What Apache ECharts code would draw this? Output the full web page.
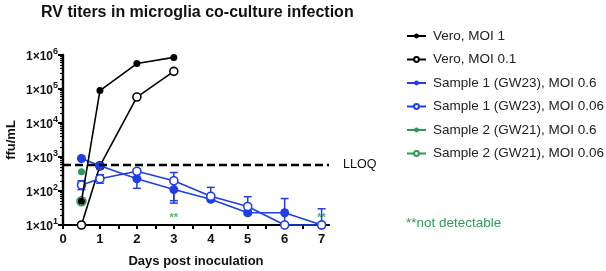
<!DOCTYPE html>
<html>
<head>
<meta charset="utf-8">
<script src="https://cdn.jsdelivr.net/npm/echarts@6/dist/echarts.min.js"></script>
<style>
  html, body { margin: 0; padding: 0; background: #fff; }
  #chart { width: 606px; height: 271px; }
</style>
</head>
<body>
<div id="chart"></div>
<script>
// data
const xTicks = [0, 1, 2, 3, 4, 5, 6, 7];
const xTickMarks = [0, 0.5, 1, 1.5, 2, 2.5, 3, 3.5, 4, 4.5, 5, 5.5, 6, 6.5, 7];
const yMinorTicks = [20, 30, 40, 50, 60, 70, 80, 90, 200, 300, 400, 500, 600, 700, 800, 900,
  2000, 3000, 4000, 5000, 6000, 7000, 8000, 9000, 20000, 30000, 40000, 50000, 60000, 70000, 80000, 90000,
  200000, 300000, 400000, 500000, 600000, 700000, 800000, 900000];

const veroDays = [0.5, 1, 2, 3];
const vero1 = [50, 90000, 560000, 850000];
const vero01 = [10, 550, 58000, 330000];

const sampleDays = [0.5, 1, 2, 3, 4, 5, 6, 7];
const s1High = [900, 550, 230, 110, 57, 23, 23, 10];
const s1HighLo = [900, 450, 120, 44, 50, 20, 10, 10];
const s1HighHi = [900, 650, 330, 200, 65, 27, 60, 10];
const s1Low = [150, 230, 380, 200, 70, 35, 10, 10];
const s1LowLo = [110, 170, 330, 52, 60, 25, 10, 10];
const s1LowHi = [200, 300, 450, 350, 128, 68, 10, 30];

const s2Days = [0.5];
const s2High = [370];
const s2Low = [50];

const notDetectDays = [3, 7];
const notDetectVals = [16, 16];

const lloq = 600;

const BLUE = '#1f3ee6';
const GREEN = '#2e9a5a';

const chart = echarts.init(document.getElementById('chart'));

function pairs(xs, ys) {
  return xs.map((x, i) => [x, ys[i]]);
}

function errorBars(name, xs, lo, hi, color) {
  return {
    name: name + ' err',
    type: 'custom',
    silent: true,
    z: 3,
    data: xs.map((x, i) => [x, lo[i], hi[i]]),
    encode: { x: 0, y: [1, 2] },
    renderItem: function (params, api) {
      const x = api.value(0);
      const a = api.coord([x, api.value(1)]);
      const b = api.coord([x, api.value(2)]);
      const w = 4;
      const st = { stroke: color, lineWidth: 1.5 };
      return {
        type: 'group',
        children: [
          { type: 'line', shape: { x1: a[0], y1: a[1], x2: b[0], y2: b[1] }, style: st },
          { type: 'line', shape: { x1: a[0] - w, y1: a[1], x2: a[0] + w, y2: a[1] }, style: st },
          { type: 'line', shape: { x1: b[0] - w, y1: b[1], x2: b[0] + w, y2: b[1] }, style: st }
        ]
      };
    }
  };
}

function lineSeries(name, data, color, filled, size, z) {
  return {
    name: name,
    type: 'line',
    data: data,
    z: z,
    symbol: 'circle',
    symbolSize: size,
    showSymbol: true,
    clip: false,
    lineStyle: { color: color, width: 1.6 },
    itemStyle: filled
      ? { color: color, borderColor: color, borderWidth: 0 }
      : { color: '#fff', borderColor: color, borderWidth: 1.6 },
    emphasis: { disabled: true }
  };
}

const supRich = {
  b: { fontSize: 12, fontWeight: 'bold', color: '#111', fontFamily: 'Liberation Sans', lineHeight: 16, verticalAlign: 'bottom' },
  s: { fontSize: 9, fontWeight: 'bold', color: '#111', fontFamily: 'Liberation Sans', lineHeight: 16, verticalAlign: 'top', padding: [0, 0, 6, 0] }
};

const vero1Series = lineSeries('Vero, MOI 1', pairs(veroDays, vero1), '#000', true, 7, 6);
vero1Series.markLine = {
  silent: true,
  symbol: 'none',
  lineStyle: { color: '#000', type: [8, 4], width: 2.4 },
  label: { show: true, position: 'end', formatter: 'LLOQ', color: '#111', fontSize: 12.5, fontFamily: 'Liberation Sans', distance: 14 },
  data: [{ yAxis: lloq }]
};

chart.setOption({
  animation: false,
  textStyle: { fontFamily: 'Liberation Sans' },
  title: {
    text: 'RV titers in microglia co-culture infection',
    left: 36,
    top: 0,
    textStyle: { fontSize: 16, fontWeight: 'bold', color: '#111', fontFamily: 'Liberation Sans' }
  },
  legend: {
    orient: 'vertical',
    left: 401,
    top: 24,
    itemWidth: 19,
    itemHeight: 6,
    itemGap: 9.5,
    textStyle: { fontSize: 13.5, color: '#222', fontFamily: 'Liberation Sans', padding: [0, 0, 0, 2] },
    data: ['Vero, MOI 1', 'Vero, MOI 0.1', 'Sample 1 (GW23), MOI 0.6', 'Sample 1 (GW23), MOI 0.06',
      'Sample 2 (GW21), MOI 0.6', 'Sample 2 (GW21), MOI 0.06']
  },
  graphic: [{
    type: 'text',
    left: 406,
    top: 216,
    style: { text: '**not detectable', fill: GREEN, fontSize: 13.5, fontFamily: 'Liberation Sans' }
  }],
  grid: { left: 63, right: 277, top: 55, bottom: 46, outerBoundsMode: 'none' },
  xAxis: {
    type: 'value',
    min: 0,
    max: 7.2,
    name: 'Days post inoculation',
    nameLocation: 'middle',
    nameGap: 30,
    nameTextStyle: { fontSize: 13, fontWeight: 'bold', color: '#111' },
    axisLine: { lineStyle: { color: '#000', width: 2.2 } },
    axisTick: { customValues: xTickMarks, length: 4, lineStyle: { color: '#000', width: 2 } },
    axisLabel: { customValues: xTicks, fontSize: 13, fontWeight: 'bold', color: '#111', margin: 8 },
    splitLine: { show: false }
  },
  yAxis: [{
    type: 'log',
    logBase: 10,
    min: 10,
    max: 1000000,
    position: 'left',
    name: 'ffu/mL',
    nameLocation: 'middle',
    nameGap: 45,
    nameTextStyle: { fontSize: 13, fontWeight: 'bold', color: '#111' },
    axisLine: { show: true, lineStyle: { color: '#000', width: 2.4 } },
    axisTick: { show: true, length: 5, lineStyle: { color: '#000', width: 2 } },
    axisLabel: {
      margin: 5,
      formatter: function (v) {
        return '{b|1×10}{s|' + Math.round(Math.log10(v)) + '}';
      },
      rich: supRich
    },
    splitLine: { show: false }
  }, {
    type: 'log',
    logBase: 10,
    min: 10,
    max: 1000000,
    position: 'left',
    axisLine: { show: false },
    axisTick: { show: true, customValues: yMinorTicks, length: 3, lineStyle: { color: '#000', width: 1.2 } },
    axisLabel: { show: false },
    splitLine: { show: false }
  }],
  series: [
    lineSeries('Sample 2 (GW21), MOI 0.06', pairs(s2Days, s2Low), GREEN, false, 9, 2),
    lineSeries('Sample 2 (GW21), MOI 0.6', pairs(s2Days, s2High), GREEN, true, 7, 2),
    lineSeries('Vero, MOI 0.1', pairs(veroDays, vero01), '#000', false, 8, 3),
    errorBars('s1High', sampleDays, s1HighLo, s1HighHi, BLUE),
    errorBars('s1Low', sampleDays, s1LowLo, s1LowHi, BLUE),
    lineSeries('Sample 1 (GW23), MOI 0.6', pairs(sampleDays, s1High), BLUE, true, 9, 4),
    lineSeries('Sample 1 (GW23), MOI 0.06', pairs(sampleDays, s1Low), BLUE, false, 8, 4),
    vero1Series,
    {
      name: 'not detectable',
      type: 'scatter',
      symbolSize: 0,
      data: pairs(notDetectDays, notDetectVals),
      silent: true,
      label: { show: true, position: 'inside', formatter: '**', color: GREEN, fontSize: 11, fontWeight: 'bold' }
    }
  ]
});
</script>
</body>
</html>
